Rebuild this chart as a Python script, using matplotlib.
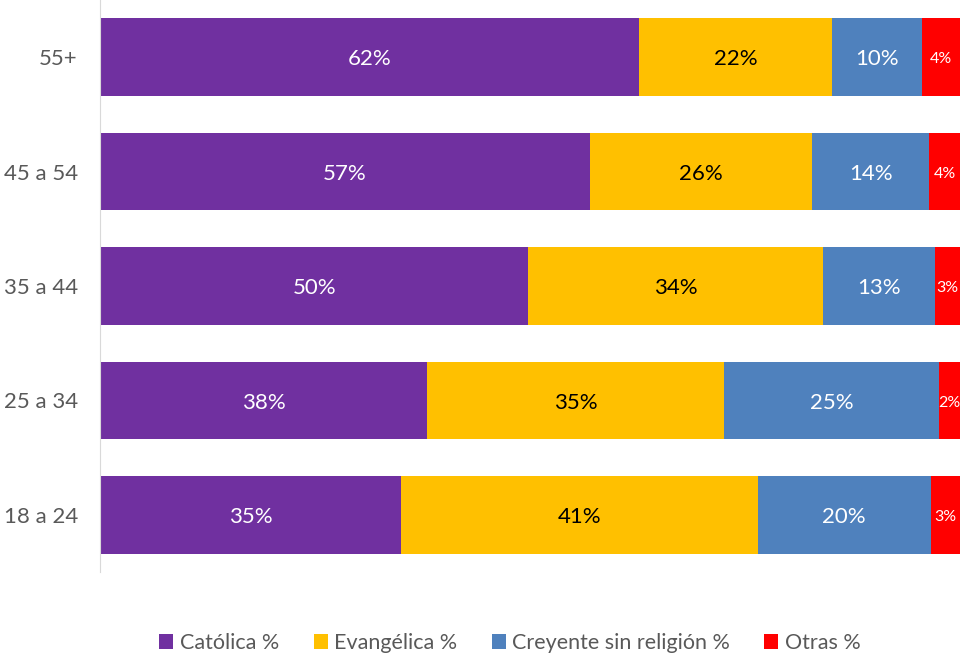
import numpy as np
import matplotlib.pyplot as plt

# age groups, bottom to top
grupos = ['18 a 24', '25 a 34', '35 a 44', '45 a 54', '55+']
series = ['Católica %', 'Evangélica %', 'Creyente sin religión %', 'Otras %']

catolica = [35.0, 38.1, 49.8, 57.1, 62.4]
evangelica = [41.4, 34.6, 34.3, 25.9, 22.4]
creyente = [20.1, 25.1, 13.0, 13.6, 10.4]
otras = [3.4, 2.4, 2.9, 3.6, 4.4]

colores = ['#7030A0', '#FFC000', '#4F81BD', '#FF0000']
color_texto = ['white', 'black', 'white', 'white']
tam_texto = [16, 16, 16, 11.5]

plt.rcParams['font.family'] = ['Lato', 'DejaVu Sans']

data = np.array([catolica, evangelica, creyente, otras])
totales = data.sum(axis=0)
pct = data / totales * 100  # 100% stacked

fig = plt.figure(figsize=(9.64, 6.58), dpi=100)
ax = fig.add_axes([100 / 964, 1 - 572 / 658, 860 / 964, 572 / 658])

y = np.arange(len(grupos))
izq = np.zeros(len(grupos))
for i, nombre in enumerate(series):
    bars = ax.barh(y, pct[i], left=izq, height=0.68, color=colores[i], label=nombre)
    for j, b in enumerate(bars):
        ax.text(izq[j] + pct[i][j] / 2, y[j] - 0.02, '%.0f%%' % data[i][j],
                ha='center', va='center', color=color_texto[i], fontsize=tam_texto[i])
    izq += pct[i]

ax.set_xlim(0, 100)
ax.set_ylim(-0.5, 4.5)
ax.set_yticks(y)
ax.set_yticklabels(grupos, fontsize=16, color='#595959')
ax.set_xticks([])
ax.tick_params(axis='y', length=0, pad=16)
for s in ['top', 'right', 'bottom']:
    ax.spines[s].set_visible(False)
ax.spines['left'].set_color('#D9D9D9')

fig.legend(loc='center', bbox_to_anchor=(510 / 964, 1 - 643 / 658), ncol=4, frameon=False,
           fontsize=15.5, handlelength=0.65, handleheight=0.65, handletextpad=0.3,
           columnspacing=1.6, labelcolor='#595959')

fig.savefig('out.png', dpi=100)
